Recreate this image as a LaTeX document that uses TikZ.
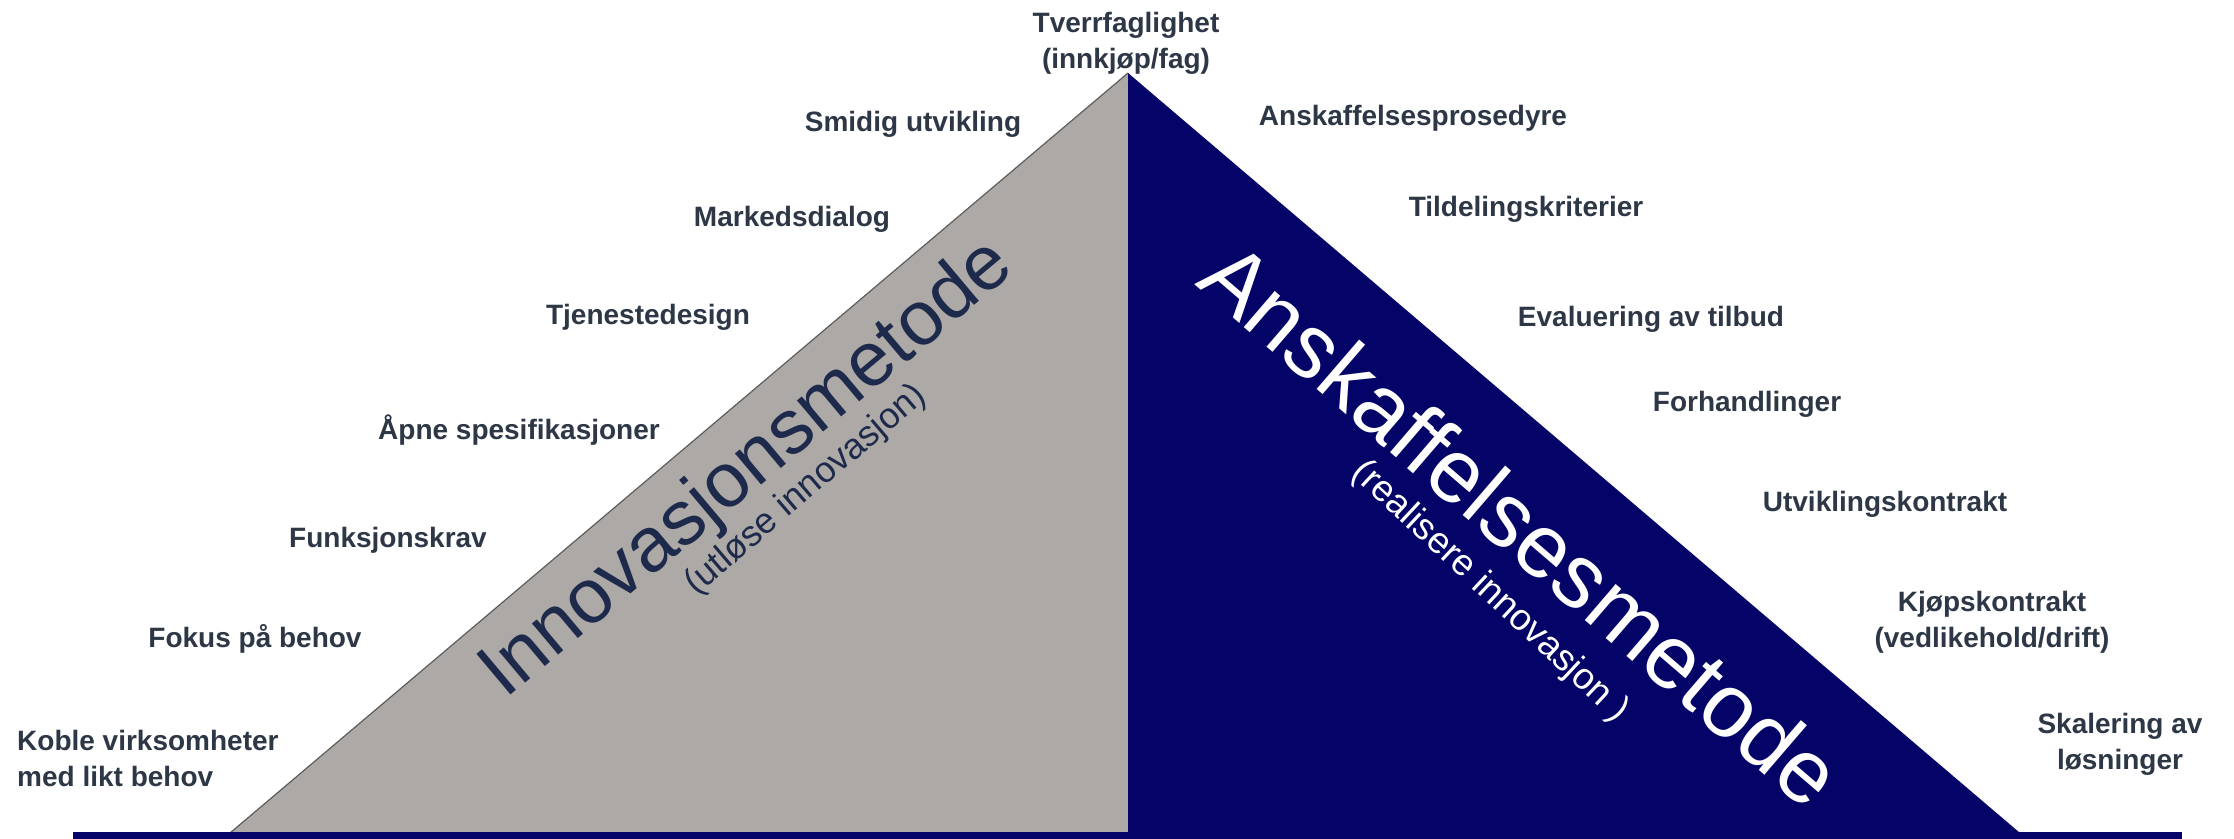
\documentclass[tikz,border=0pt]{standalone}
\usepackage{fontspec}
\setmainfont{Liberation Sans}
\definecolor{navy}{RGB}{3,3,104}
\definecolor{tri}{RGB}{173,169,166}
\definecolor{lbl}{RGB}{45,55,70}
\definecolor{bigtxt}{RGB}{30,42,75}
\begin{document}
\begin{tikzpicture}[x=1pt,y=-1pt,
  lab/.style={font=\fontsize{28}{36}\selectfont\bfseries, text=lbl, align=center, inner sep=0pt},
  labl/.style={lab, align=left, anchor=west},
  bigl/.style={font=\fontsize{77}{77}\selectfont, text=bigtxt, inner sep=0pt, rotate=40},
  subl/.style={font=\fontsize{36}{36}\selectfont, text=bigtxt, inner sep=0pt, rotate=40.5},
  bigr/.style={font=\fontsize{90}{90}\selectfont, text=white, inner sep=0pt, rotate=-40.7},
  subr/.style={font=\fontsize{37}{37}\selectfont, text=white, inner sep=0pt, rotate=-43}]
\useasboundingbox (0,0) rectangle (2234,838);
\fill[white] (0,0) rectangle (2234,838);
\coordinate (apex) at (1128,73);
\coordinate (bl) at (230,833);
\coordinate (br) at (2020,833);
\coordinate (bm) at (1128,833);
\fill[tri] (bl) -- (apex) -- (bm) -- cycle;
\draw[tri!55!black, line width=1.2] (bl) -- (apex);
\fill[navy] (apex) -- (br) -- (bm) -- cycle;
\fill[navy] (73,832) rectangle (2182,840);
% left labels
\node[lab] (tv) at (1126,43) {Tverrfaglighet\\(innkjøp/fag)};
\node[lab] (smi) at (913,124) {Smidig utvikling};
\node[lab] (mar) at (792,219) {Markedsdialog};
\node[lab] (tje) at (648,317) {Tjenestedesign};
\node[lab] (apn) at (519,430) {Åpne spesifikasjoner};
\node[lab] (fun) at (388,540) {Funksjonskrav};
\node[lab] (fok) at (255,639) {Fokus på behov};
\node[labl] (kob) at (17,758) {Koble virksomheter\\med likt behov};
% right labels
\node[lab] (ans) at (1413,118) {Anskaffelsesprosedyre};
\node[lab] (til) at (1526,209) {Tildelingskriterier};
\node[lab] (eva) at (1651,319) {Evaluering av tilbud};
\node[lab] (for) at (1747,404) {Forhandlinger};
\node[lab] (utv) at (1885,504) {Utviklingskontrakt};
\node[lab] (kjo) at (1992,622) {Kjøpskontrakt\\(vedlikehold/drift)};
\node[lab] (ska) at (2120,744) {Skalering av\\løsninger};
% big labels
\node[bigl] (inn) at (748,470) {Innovasjonsmetode};
\node[subl] (utl) at (806,490) {(utløse innovasjon)};
\node[bigr] (ank) at (1522,524) {Anskaffelsesmetode};
\node[subr] (rea) at (1490,592) {(realisere innovasjon )};
\end{tikzpicture}
\end{document}
